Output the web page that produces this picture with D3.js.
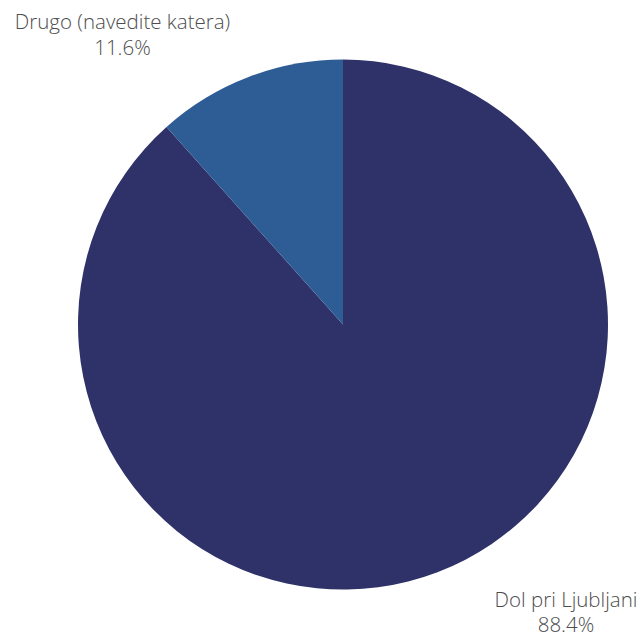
<!DOCTYPE html>
<html><head><meta charset="utf-8">
<script src="https://cdn.jsdelivr.net/npm/d3@7"></script>
<style>body{margin:0;background:#fff}svg{display:block}</style>
</head><body>
<svg id="c" width="642" height="637"></svg>
<script>
const categories = ["Dol pri Ljubljani", "Drugo (navedite katera)"];
const values = [88.4, 11.6];
const valueLabels = ["88.4%", "11.6%"];
const colors = ["#2f3268", "#2e5c95"];

const svg = d3.select("#c");
const cx = 343, cy = 324.6, r = 265;
const pie = d3.pie().sort(null).value(d => d)(values);
const arc = d3.arc().innerRadius(0).outerRadius(r);
const g = svg.append("g").attr("transform", `translate(${cx},${cy})`);
g.selectAll("path").data(pie).enter().append("path")
  .attr("d", arc).attr("fill", (d, i) => colors[i]);

const labelPos = [[566, 606.5], [122.5, 29]];
categories.forEach((c, i) => {
  const t = svg.append("text").attr("text-anchor", "middle")
    .attr("font-family", "'Open Sans', sans-serif").attr("font-size", 20.5)
    .attr("fill", "#4d4d4d").attr("font-weight", 300);
  t.append("tspan").attr("x", labelPos[i][0]).attr("y", labelPos[i][1]).text(c);
  t.append("tspan").attr("x", labelPos[i][0]).attr("y", labelPos[i][1] + 25.5).text(valueLabels[i]);
});
</script>
</body></html>
